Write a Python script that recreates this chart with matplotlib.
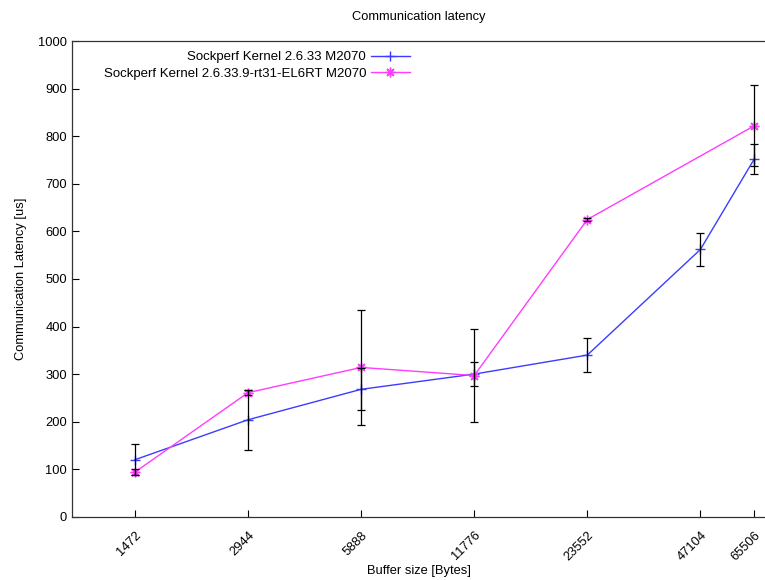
import matplotlib
matplotlib.use("Agg")
import matplotlib.pyplot as plt
from matplotlib.ticker import FixedLocator, NullLocator

plt.rcParams['font.family'] = ['Liberation Sans', 'DejaVu Sans']

# buffer sizes [Bytes]
sizes = [1472, 2944, 5888, 11776, 23552, 47104, 65506]

# Sockperf Kernel 2.6.33 M2070
std_lat = [120, 204, 268, 300, 340, 562, 752]
std_err = [33, 63, 44, 25, 35, 35, 32]

# Sockperf Kernel 2.6.33.9-rt31-EL6RT M2070 (no point at 47104)
rt_sizes = [1472, 2944, 5888, 11776, 23552, 65506]
rt_lat = [94, 261, 314, 297, 625, 822]
rt_err = [7, 5, 121, 97, 4, 85]

fig = plt.figure(figsize=(7.65, 5.8), dpi=100)
ax = fig.add_axes([0.094, 0.109, 0.906, 0.82])

ax.plot(sizes, std_lat, color='#3c3cff', lw=1.0, marker='+', ms=7, mew=1.0,
        label='Sockperf Kernel 2.6.33 M2070', zorder=2)
ax.plot(rt_sizes, rt_lat, color='#ff3cff', lw=1.0, marker=(8, 2, 0), ms=7, mew=1.0,
        label='Sockperf Kernel 2.6.33.9-rt31-EL6RT M2070', zorder=2)
ax.errorbar(sizes, std_lat, yerr=std_err, fmt='none', ecolor='black',
            elinewidth=0.9, capsize=3, capthick=0.9, zorder=3)
ax.errorbar(rt_sizes, rt_lat, yerr=rt_err, fmt='none', ecolor='black',
            elinewidth=0.9, capsize=3, capthick=0.9, zorder=3)

ax.set_xscale('log')
ax.set_xlim(1000, 70000)
ax.set_ylim(0, 1000)
ax.xaxis.set_major_locator(FixedLocator(sizes))
ax.xaxis.set_minor_locator(NullLocator())
ax.set_xticklabels([str(s) for s in sizes], rotation=45, ha='right',
                   rotation_mode='anchor', fontsize=9.3)
ax.set_yticks(range(0, 1001, 100))
ax.tick_params(axis='both', direction='in', length=5, width=0.8, labelsize=9.3)
ax.tick_params(axis='x', pad=9)

for side in ['top', 'left', 'bottom']:
    ax.spines[side].set_linewidth(0.9)
    ax.spines[side].set_color('#333333')
ax.spines['right'].set_visible(False)

ax.set_title('Communication latency', fontsize=9.3, pad=15)
fig.text(0.547, 1 - 571 / 580, 'Buffer size [Bytes]', fontsize=9.3,
         ha='center', va='center')
ax.set_ylabel('Communication Latency [us]', fontsize=9.3, labelpad=8)

leg = ax.legend(loc='upper right', bbox_to_anchor=(0.492, 0.985), frameon=False,
                fontsize=9.5, markerfirst=False, handlelength=3.0,
                handletextpad=0.35, labelspacing=0.35, borderaxespad=0,
                borderpad=0.2)
# keep legend text right-aligned
leg._legend_box.align = 'right'
for vp in leg._legend_box.get_children()[1].get_children():
    vp.align = 'right'

fig.savefig('out.png', dpi=100)
